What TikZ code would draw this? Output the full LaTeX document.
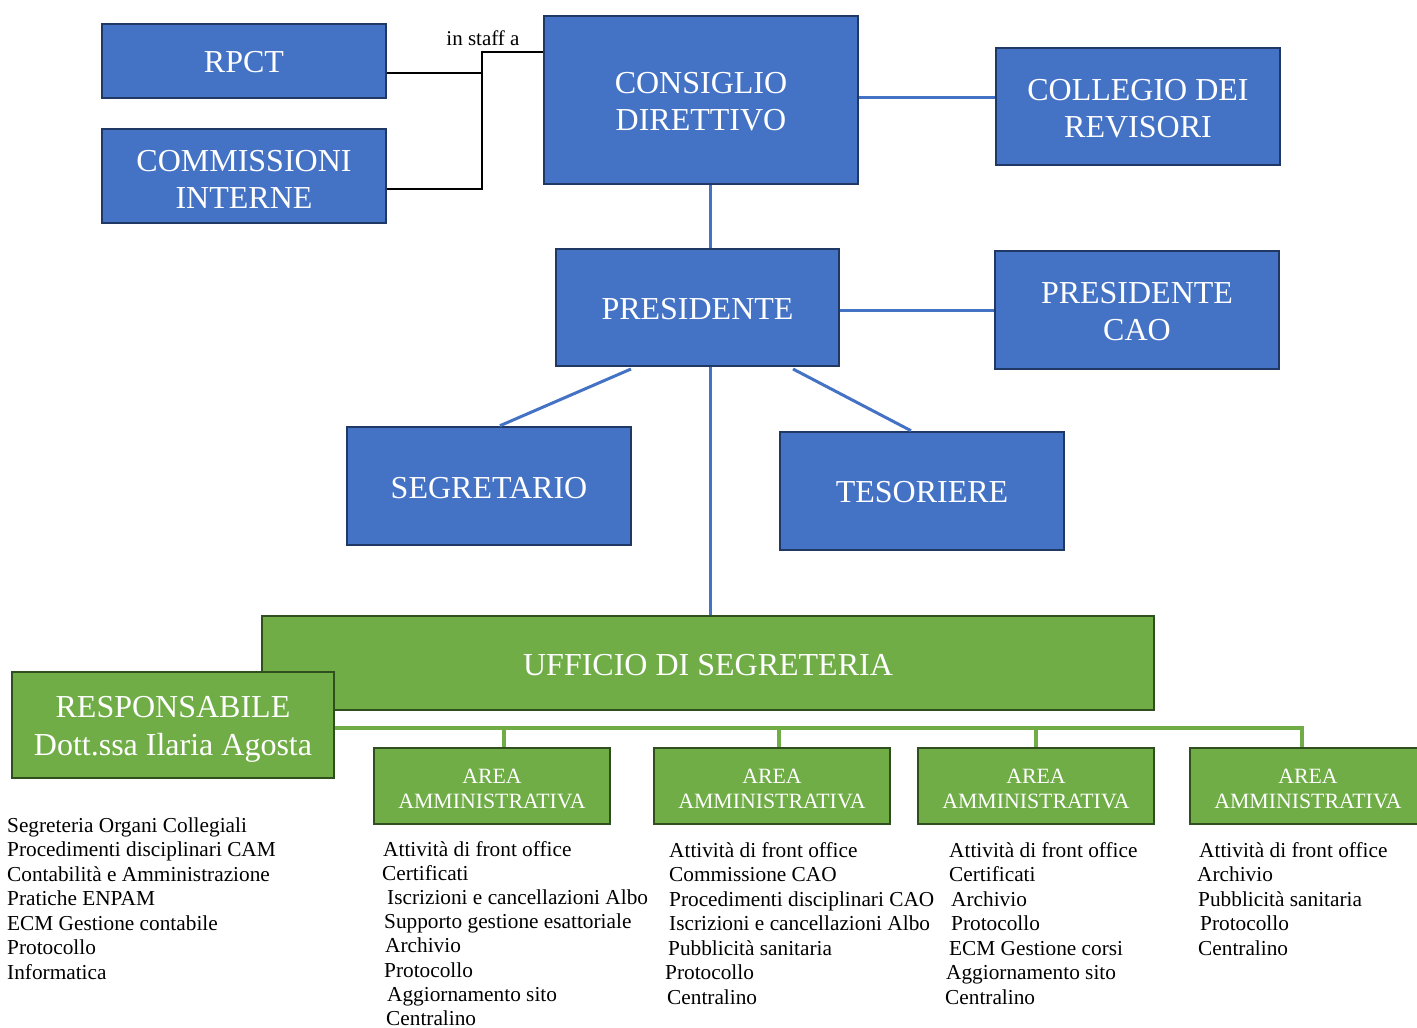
\documentclass[tikz,border=0pt]{standalone}
\usepackage{fontspec}
\setmainfont{Liberation Serif}
\definecolor{bfill}{HTML}{4472C4}
\definecolor{bdraw}{HTML}{203864}
\definecolor{gfill}{HTML}{70AD47}
\definecolor{gdraw}{HTML}{2F4F1E}
\tikzset{
  bluebox/.style={draw=bdraw, fill=bfill, line width=2.6pt, inner sep=0pt},
  greenbox/.style={draw=gdraw, fill=gfill, line width=2.6pt, inner sep=0pt},
  bigtxt/.style={text=white, align=center, inner sep=0pt, font=\fontsize{32}{37}\selectfont},
  resptxt/.style={text=white, align=center, inner sep=0pt, font=\fontsize{32}{38}\selectfont},
  areatxt/.style={text=white, align=center, inner sep=0pt, font=\fontsize{21.8}{25}\selectfont},
  blink/.style={draw=bfill, line width=3pt},
  glink/.style={draw=gfill, line width=4pt},
  klink/.style={draw=black, line width=1.2pt},
  listtxt/.style={anchor=base west, inner sep=0pt, font=\fontsize{21.3}{24.5}\selectfont},
}
\begin{document}
\begin{tikzpicture}[x=1pt,y=-1pt]
\useasboundingbox (0,0) rectangle (1417,1028);
\begin{scope}
\clip (0,0) rectangle (1417,1028);
% blue boxes
\node[bluebox, minimum width=284pt, minimum height=74pt] (rpct) at (244,61) {};
\node[bluebox, minimum width=284pt, minimum height=94pt] (comm) at (244,176) {};
\node[bluebox, minimum width=314pt, minimum height=168pt] (cons) at (701,100) {};
\node[bluebox, minimum width=284pt, minimum height=117pt] (coll) at (1138,106.5) {};
\node[bluebox, minimum width=283pt, minimum height=117pt] (pres) at (697.5,307.5) {};
\node[bluebox, minimum width=284pt, minimum height=118pt] (cao) at (1137,310) {};
\node[bluebox, minimum width=284pt, minimum height=118pt] (segr) at (489,486) {};
\node[bluebox, minimum width=284pt, minimum height=118pt] (tes) at (922,491) {};
% green boxes
\node[greenbox, minimum width=892pt, minimum height=94pt] (uff) at (708,663) {};
\node[greenbox, minimum width=322pt, minimum height=106pt] (resp) at (173,725) {};
\node[greenbox, minimum width=236pt, minimum height=76pt] (a1) at (492,786) {};
\node[greenbox, minimum width=236pt, minimum height=76pt] (a2) at (772,786) {};
\node[greenbox, minimum width=236pt, minimum height=76pt] (a3) at (1036,786) {};
\node[greenbox, minimum width=236pt, minimum height=76pt] (a4) at (1308,786) {};
\end{scope}
% box texts
\node[bigtxt] (rpct-t) at ([yshift=-1pt]rpct.center) {RPCT};
\node[bigtxt] (comm-t) at ([yshift=-3pt]comm.center) {COMMISSIONI\\INTERNE};
\node[bigtxt] (cons-t) at ([yshift=-2pt]cons.center) {CONSIGLIO\\DIRETTIVO};
\node[bigtxt] (coll-t) at ([yshift=-2pt]coll.center) {COLLEGIO DEI\\REVISORI};
\node[bigtxt] (pres-t) at ([yshift=-2pt]pres.center) {PRESIDENTE};
\node[bigtxt] (cao-t) at ([yshift=-2pt]cao.center) {PRESIDENTE\\CAO};
\node[bigtxt] (segr-t) at ([yshift=-2pt]segr.center) {SEGRETARIO};
\node[bigtxt] (tes-t) at ([yshift=-1pt]tes.center) {TESORIERE};
\node[bigtxt] (uff-t) at ([yshift=-2pt]uff.center) {UFFICIO DI SEGRETERIA};
\node[resptxt] (resp-t) at ([yshift=-4pt]resp.center) {RESPONSABILE\\Dott.ssa Ilaria Agosta};
\foreach \a in {a1,a2,a3,a4}
  \node[areatxt] (\a-t) at ([yshift=-3pt]\a.center) {AREA\\AMMINISTRATIVA};
% staff connectors
\coordinate (jx) at (482,52);
\draw[klink] (rpct.east |- 0,73) -- (482,73);
\draw[klink] (comm.east |- 0,189) -- (482,189) -- (jx) -- (cons.west |- jx);
\node[inner sep=0pt, font=\fontsize{21}{25}\selectfont] (staff) at (483,38) {in staff a};
% blue connectors
\draw[blink] (cons.south -| 710,0) -- (pres.north -| 710,0);
\draw[blink] (cons.east |- 0,97) -- (coll.west |- 0,97);
\draw[blink] (pres.east |- 0,310) -- (cao.west |- 0,310);
\draw[blink] (pres.south -| 710,0) -- (uff.north -| 710,0);
\draw[blink] (631,369) -- (segr.north -| 500,0);
\draw[blink] (793,369) -- (tes.north -| 911,0);
% green connectors
\coordinate (g4) at (1302,728);
\draw[glink] (resp.east |- g4) -- (g4) -- (a4.north -| g4);
\draw[glink] (504,728) -- (a1.north -| 504,0);
\draw[glink] (779,728) -- (a2.north -| 779,0);
\draw[glink] (1036,728) -- (a3.north -| 1036,0);
% lists
\foreach \dx/\t [count=\i] in {0/Segreteria Organi Collegiali,0/Procedimenti disciplinari CAM,0/Contabilità e Amministrazione,0/Pratiche ENPAM,0/ECM Gestione contabile,0/Protocollo,0/Informatica}
  \node[listtxt] (l0-\i) at (7+\dx,832+24.5*\i-24.5) {\t};
\foreach \dx/\t [count=\i] in {0/Attività di front office,-1/Certificati,4/Iscrizioni e cancellazioni Albo,1/Supporto gestione esattoriale,2/Archivio,1/Protocollo,4/Aggiornamento sito,3/Centralino}
  \node[listtxt] (l1-\i) at (383+\dx,856+24.2*\i-24.2) {\t};
\foreach \dx/\t [count=\i] in {0/Attività di front office,0/Commissione CAO,0/Procedimenti disciplinari CAO,0/Iscrizioni e cancellazioni Albo,-1/Pubblicità sanitaria,-4/Protocollo,-2/Centralino}
  \node[listtxt] (l2-\i) at (669+\dx,857+24.5*\i-24.5) {\t};
\foreach \dx/\t [count=\i] in {0/Attività di front office,0/Certificati,2/Archivio,2/Protocollo,0/ECM Gestione corsi,-3/Aggiornamento sito,-4/Centralino}
  \node[listtxt] (l3-\i) at (949+\dx,857+24.5*\i-24.5) {\t};
\foreach \dx/\t [count=\i] in {0/Attività di front office,-2/Archivio,-1/Pubblicità sanitaria,1/Protocollo,-1/Centralino}
  \node[listtxt] (l4-\i) at (1199+\dx,857+24.5*\i-24.5) {\t};
\end{tikzpicture}
\end{document}
